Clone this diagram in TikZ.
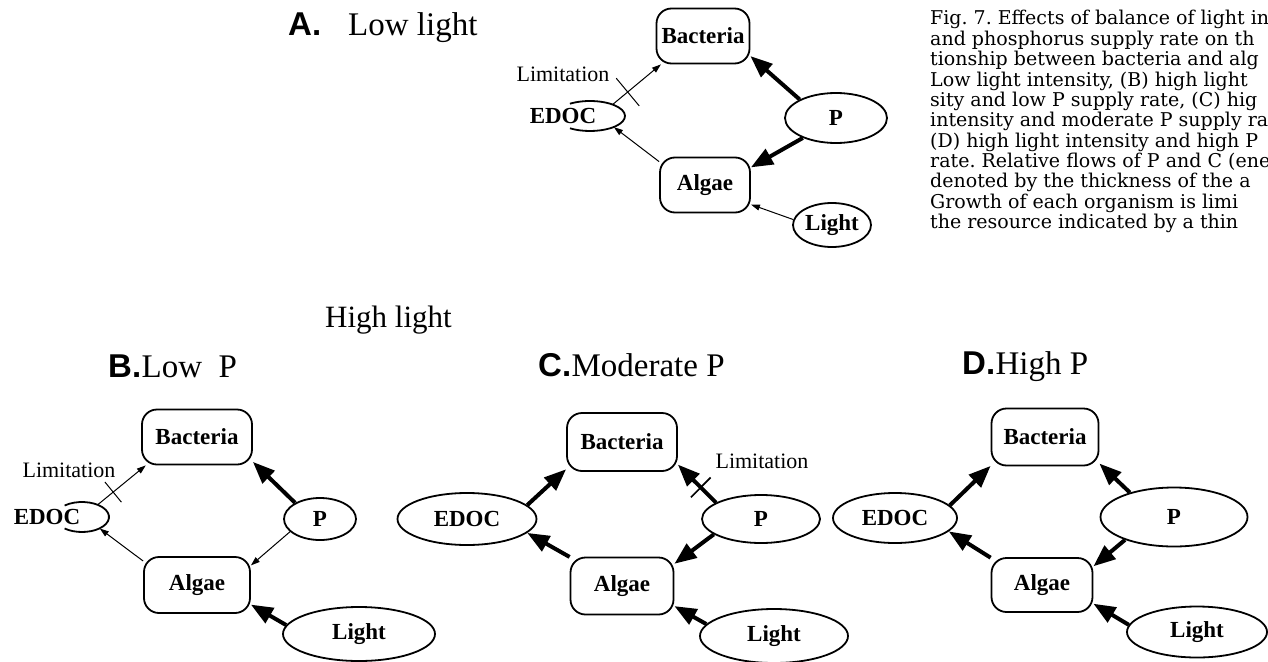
\documentclass[tikz,border=0pt]{standalone}
\usepackage{fontspec}
\setmainfont{Liberation Serif}
\newfontfamily\hfont{Liberation Sans}
\newfontfamily\capfont{DejaVu Serif}
\usetikzlibrary{shapes.geometric,arrows.meta,calc}
\frenchspacing
\tikzset{
  box/.style={draw, line width=1.8pt, rounded corners=15pt, inner sep=0pt, font=\fontsize{23}{26}\selectfont\bfseries},
  ell/.style={draw, ellipse, line width=1.8pt, inner sep=0pt, font=\fontsize{23}{26}\selectfont\bfseries},
  openell/.style={ellipse, inner sep=0pt},
  lbl/.style={inner sep=0pt, font=\fontsize{23}{26}\selectfont\bfseries},
  limlbl/.style={inner sep=0pt, font=\fontsize{22}{24}\selectfont},
  arcline/.style={line width=1.8pt},
  thinar/.style={line width=1pt, -{Triangle[length=9pt,width=6pt]}},
  thickar/.style={line width=4pt, -{Triangle[length=22pt,width=17pt]}},
  tickline/.style={line width=1pt},
  ttlsans/.style={inner sep=0pt, anchor=base west, font=\fontsize{33}{36}\selectfont\hfont\bfseries},
  ttlserif/.style={inner sep=0pt, anchor=base west, font=\fontsize{33}{36}\selectfont},
  capline/.style={inner sep=0pt, anchor=base west, font=\fontsize{19}{20}\selectfont\capfont}
}
\begin{document}
\begin{tikzpicture}[x=1pt,y=1pt]
\useasboundingbox (0,0) rectangle (1268,-661);
\clip (0,0) rectangle (1268,-661);

% ---------- Caption ----------
\foreach \t [count=\i] in {
  {Fig. 7. Effects of balance of light in},
  {and phosphorus supply rate on th},
  {tionship between bacteria and alg},
  {Low light intensity, (B) high light},
  {sity and low P supply rate, (C) hig},
  {intensity and moderate P supply ra},
  {(D) high light intensity and high P},
  {rate. Relative flows of P and C (ene},
  {denoted by the thickness of the a},
  {Growth of each organism is limi},
  {the resource indicated by a thin}}
  \node[capline] (cap\i) at (930,{-25-20.35*(\i-1)}) {\t};

% ---------- Titles ----------
\node[ttlsans] (titA) at (288,-36) {A.};
\node[ttlserif] (titA2) at (348,-36) {Low light};
\node[ttlserif, font=\fontsize{31}{34}\selectfont] (titHL) at (325,-327) {High light};
\node[ttlsans] (titB) at (108,-377) {B.};
\node[ttlserif] (titB2) at (titB.base east) {Low~~P};
\node[ttlsans] (titC) at (538,-376) {C.};
\node[ttlserif] (titC2) at (titC.base east) {Moderate P};
\node[ttlsans] (titD) at (962,-374) {D.};
\node[ttlserif] (titD2) at (titD.base east) {High P};

% ---------- Panel A ----------
\node[box, minimum width=93pt, minimum height=55pt] (bactA) at (703,-36) {Bacteria};
\node[box, minimum width=90pt, minimum height=55pt] (algA) at (705,-185) {Algae};
\node[ell, minimum width=102pt, minimum height=50pt] (pA) at (836,-118) {P};
\node[ell, minimum width=78pt, minimum height=44pt] (lightA) at (832,-225) {Light};
\node[openell, minimum width=70pt, minimum height=30pt] (edocA) at (590,-116) {};
\node[lbl] (edocAt) at (563,-116) {EDOC};
\draw[arcline] ([shift={(125:35pt and 15pt)}]edocA.center) arc[start angle=125, end angle=-125, x radius=35pt, y radius=15pt];
\node[limlbl] (limA) at (563,-74) {Limitation};
\draw[thinar] (edocA.27) -- coordinate[pos=.31] (tkA) (bactA.214);
\draw[tickline] ($(tkA)!18pt!90:(bactA.214)$) -- ($(tkA)!18pt!-90:(bactA.214)$);
\draw[thinar] (algA.153) -- (edocA.335);
\draw[thickar] (pA.153) -- (bactA.337);
\draw[thickar] (pA.211) -- (algA.21);
\draw[thinar] (lightA.172) -- (algA.337);

% ---------- Panel B ----------
\node[box, minimum width=110pt, minimum height=55pt] (bactB) at (197,-437) {Bacteria};
\node[box, minimum width=106pt, minimum height=56pt] (algB) at (197,-585) {Algae};
\node[ell, minimum width=72pt, minimum height=42pt] (pB) at (320,-519) {P};
\node[ell, minimum width=152pt, minimum height=54pt] (lightB) at (359,-634) {Light};
\node[openell, minimum width=54pt, minimum height=30pt] (edocB) at (82,-517) {};
\node[lbl] (edocBt) at (47,-517) {EDOC};
\draw[arcline] ([shift={(130:27pt and 15pt)}]edocB.center) arc[start angle=130, end angle=-130, x radius=27pt, y radius=15pt];
\node[limlbl] (limB) at (69,-470) {Limitation};
\draw[thinar] (edocB.38) -- coordinate[pos=.32] (tkB) (bactB.209);
\draw[tickline] ($(tkB)!13pt!90:(bactB.209)$) -- ($(tkB)!13pt!-90:(bactB.209)$);
\draw[thinar] (algB.156) -- (edocB.327);
\draw[thickar] (pB.147) -- (bactB.336);
\draw[thinar] (pB.203) -- (algB.20);
\draw[thickar] (lightB.173) -- (algB.340);

% ---------- Panel C ----------
\node[box, minimum width=110pt, minimum height=58pt] (bactC) at (622,-442) {Bacteria};
\node[box, minimum width=103pt, minimum height=57pt] (algC) at (622,-586) {Algae};
\node[ell, minimum width=139pt, minimum height=52pt] (edocC) at (467,-519) {EDOC};
\node[ell, minimum width=118pt, minimum height=48pt] (pC) at (761,-519) {P};
\node[ell, minimum width=148pt, minimum height=54pt] (lightC) at (774,-636) {Light};
\node[limlbl] (limC) at (762,-461) {Limitation};
\draw[thickar] (edocC.13) -- (bactC.206);
\draw[thickar] (algC.151) -- (edocC.347);
\draw[thickar] (pC.160) -- coordinate[pos=.4] (tkC) (bactC.338);
\draw[tickline, line width=1.6pt] ($(tkC)!14pt!90:(bactC.338)$) -- ($(tkC)!14pt!-90:(bactC.338)$);
\draw[thickar] (pC.198) -- (algC.23);
\draw[thickar] (lightC.170) -- (algC.339);

% ---------- Panel D ----------
\node[box, minimum width=107pt, minimum height=57pt] (bactD) at (1045,-437) {Bacteria};
\node[box, minimum width=101pt, minimum height=54pt] (algD) at (1042,-585) {Algae};
\node[ell, minimum width=124pt, minimum height=50pt] (edocD) at (895,-518) {EDOC};
\node[ell, minimum width=147pt, minimum height=59pt] (pD) at (1174,-517) {P};
\node[ell, minimum width=140pt, minimum height=51pt] (lightD) at (1197,-632) {Light};
\draw[thickar] (edocD.13) -- (bactD.208);
\draw[thickar] (algD.152) -- (edocD.346);
\draw[thickar] (pD.151) -- (bactD.334);
\draw[thickar] (pD.205) -- (algD.20);
\draw[thickar] (lightD.174) -- (algD.340);
\end{tikzpicture}
\end{document}
